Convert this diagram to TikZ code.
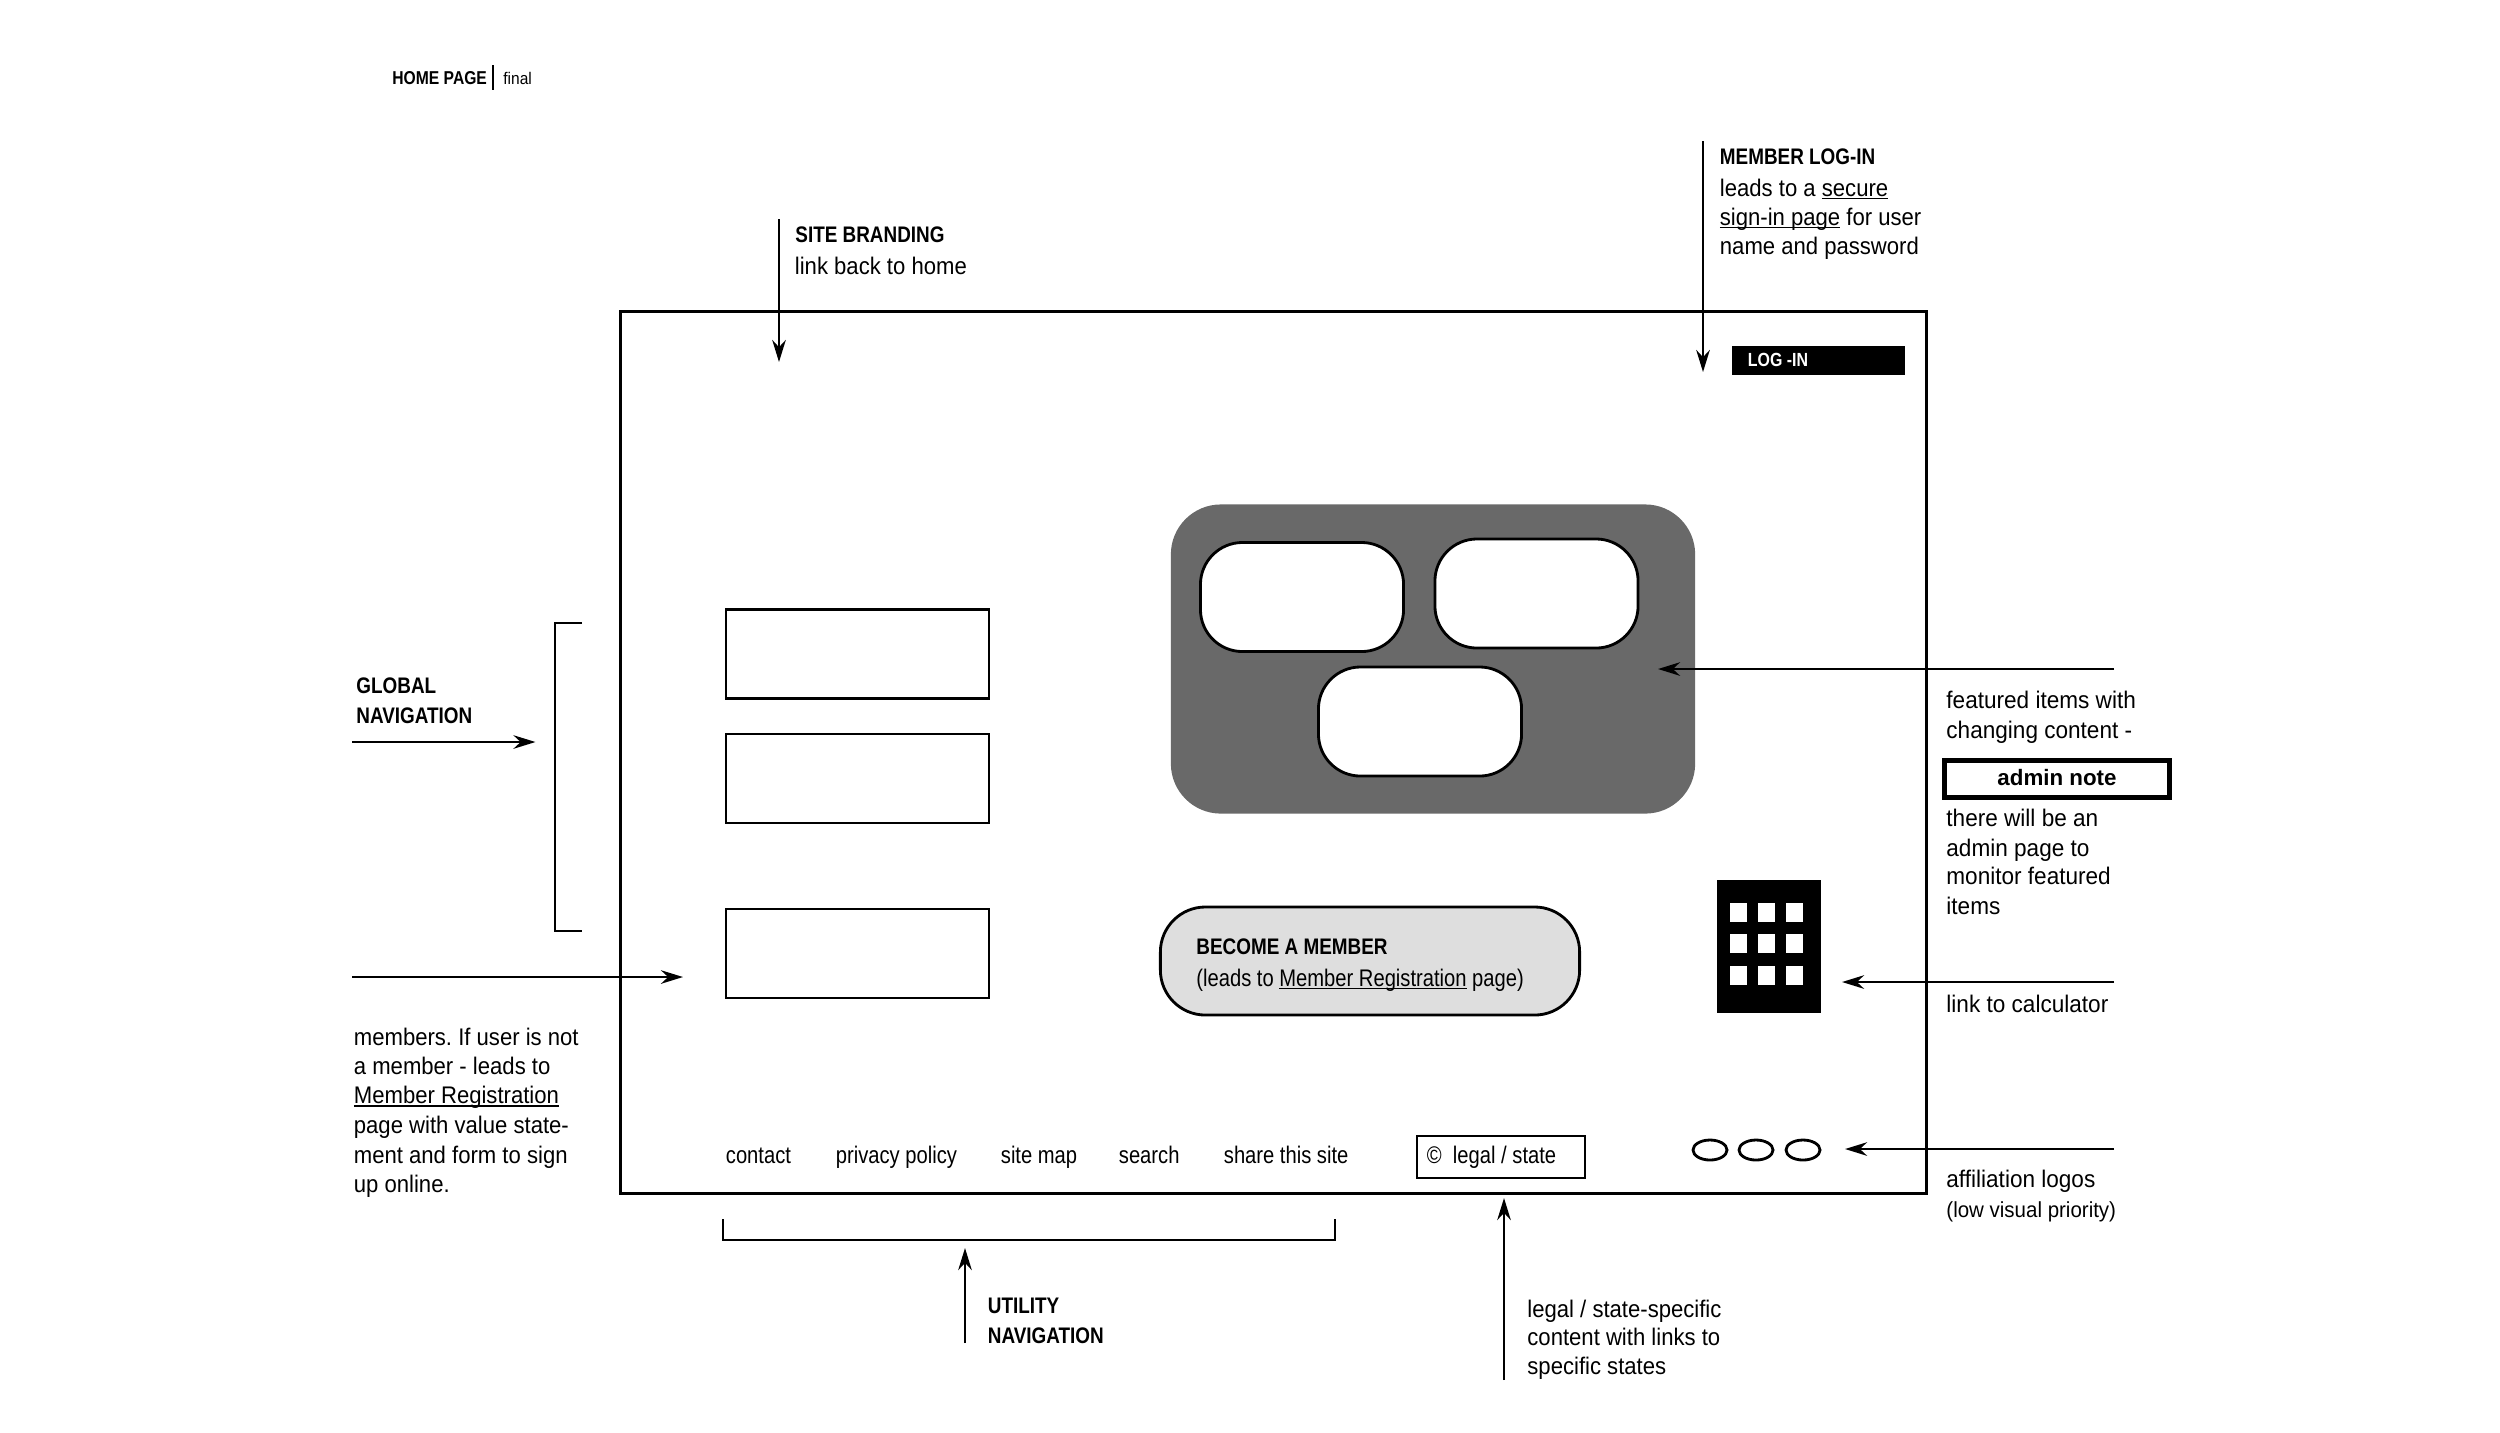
\documentclass[tikz,border=0pt]{standalone}
\usepackage{fontspec}
\usetikzlibrary{arrows.meta,shapes.geometric}
\newfontfamily\bodyfont[FakeStretch=.92]{Liberation Sans}
\newfontfamily\sidefont[FakeStretch=.94]{Liberation Sans}
\newfontfamily\pagefont[FakeStretch=.84]{Liberation Sans}
\newfontfamily\headfont[FakeStretch=.84]{Liberation Sans}
\newcommand{\ulink}[1]{\setbox0=\hbox{#1}\rlap{\rule[-.9pt]{\wd0}{.4pt}}\box0\relax}
\frenchspacing

\begin{document}
\begin{tikzpicture}[x=0.01cm,y=-0.01cm,line width=0.8pt]
                \tikzstyle{note}=[anchor=base west,inner sep=0pt,align=left,font=\bodyfont\fontsize{6.83pt}{8.34pt}\selectfont]
                \tikzstyle{side}=[note,font=\sidefont\fontsize{6.83pt}{8.34pt}\selectfont]
                \tikzstyle{pagetext}=[note,font=\pagefont\fontsize{6.83pt}{8.34pt}\selectfont]
                \tikzstyle{head}=[note,font=\headfont\bfseries\fontsize{6.4pt}{8.34pt}\selectfont]
                \tikzstyle{pointer}=[line width=0.75pt,-{Stealth[length=2.2mm,width=1.35mm]}]
                \tikzstyle{navbox}=[rectangle,draw=black,fill=white,minimum width=2.63cm,minimum height=0.89cm,inner sep=0pt]
                \tikzstyle{feature}=[rectangle,draw=black,fill=white,rounded corners=0.42cm,minimum width=2.03cm,minimum height=1.09cm,inner sep=0pt]
                \useasboundingbox (0,0) rectangle (2500,1432);

                \node[rectangle,draw=black,minimum width=13.05cm,minimum height=8.81cm,inner sep=0pt] (frame) at (1273.5,752.5) {};

                \node[rectangle,fill=black!59,rounded corners=0.5cm,minimum width=5.24cm,minimum height=3.09cm] (panel) at (1433,659) {};
                \foreach \num/\x/\y in {1/1302/597, 2/1536.5/593.5, 3/1420/721.5}
                        \node[feature] (F-\num) at (\x,\y) {};

                \foreach \num/\y in {1/654, 2/778.5, 3/953.5}
                        \node[navbox] (N-\num) at (857.5,\y) {};

                \node[rectangle,draw=black,fill=black!13,rounded corners=0.45cm,minimum width=4.19cm,minimum height=1.08cm,inner sep=0pt] (pill) at (1370,961) {};
                \node[head] (pill-a) at (1195,954) {BECOME A MEMBER};
                \node[pagetext] (pill-b) at (1195,986) {(leads to \ulink{Member Registration} page)};

                \node[rectangle,fill=black,minimum width=1.04cm,minimum height=1.33cm,inner sep=0pt] (calc) at (1769,946.5) {};
                \foreach \x in {1738.5,1766.5,1794}
                    \foreach \y in {912,943.5,975.5}
                        \node[rectangle,fill=white,minimum width=0.17cm,minimum height=0.19cm,inner sep=0pt] (W-\x-\y) at (\x,\y) {};

                \node[rectangle,fill=black,minimum width=1.73cm,minimum height=0.29cm,inner sep=0pt] (login) at (1818.5,360.5) {};
                \node[head,text=white,font=\headfont\bfseries\fontsize{5.4pt}{6pt}\selectfont] (login-t) at (1746.5,366) {LOG -IN};

                \foreach \num/\x/\label in {1/724.5/contact, 2/834.5/privacy policy, 3/999.5/site map, 4/1117.5/search, 5/1222.5/share this site}
                        \node[pagetext] (U-\num) at (\x,1163) {\label};

                \node[rectangle,draw=black,line width=0.35pt,minimum width=1.68cm,minimum height=0.42cm,inner sep=0pt] (legal) at (1501,1157) {};
                \node[pagetext] (legal-t) at (1425.5,1163) {©\ \ legal / state};

                \foreach \num/\x in {1/1710, 2/1756, 3/1803}
                        \node[ellipse,draw=black,minimum width=0.34cm,minimum height=0.2cm,inner sep=0pt] (L-\num) at (\x,1150) {};

                \foreach \num/\xa/\ya/\xb/\yb in {brand/779/219/779/362, member/1703/141/1703/372, global/352/742/535.5/742, join/352/977/683/977, utility/965/1343/965/1248, state/1504/1380/1504/1198, items/2114/669/1658/669, tool/2114/982/1842/982, logos/2114/1149/1845/1149} {
                        \coordinate (\num-a) at (\xa,\ya);
                        \coordinate (\num-b) at (\xb,\yb);
                        \draw[pointer] (\num-a) -- (\num-b);
                }

                \coordinate (B-1) at (582,623);
                \coordinate (B-2) at (555,623);
                \coordinate (B-3) at (555,931);
                \coordinate (B-4) at (582,931);
                \draw (B-1) -- (B-2) -- (B-3) -- (B-4);

                \coordinate (C-1) at (723,1219);
                \coordinate (C-2) at (723,1240);
                \coordinate (C-3) at (1335,1240);
                \coordinate (C-4) at (1335,1219);
                \draw (C-1) -- (C-2) -- (C-3) -- (C-4);

                \node[head,font=\headfont\bfseries\fontsize{5.3pt}{6pt}\selectfont] (title) at (391,84) {HOME PAGE};
                \coordinate (bar-a) at (493,65);
                \coordinate (bar-b) at (493,90);
                \draw[line width=0.5pt] (bar-a) -- (bar-b);
                \node[note,font=\bodyfont\fontsize{4.8pt}{6pt}\selectfont] (title-b) at (502,84) {final};

                \node[head] (brand-h) at (794,242) {SITE BRANDING};
                \node[note] (brand-t) at (793.5,274) {link back to home};

                \node[head] (member-h) at (1718.5,164) {MEMBER LOG-IN};
                \node[note] (member-t1) at (1718.5,196) {leads to a \ulink{secure}};
                \node[note] (member-t2) at (1718.5,225) {\ulink{sign-in page} for user};
                \node[note] (member-t3) at (1718.5,254) {name and password};

                \node[head] (global-h1) at (355,693.5) {GLOBAL};
                \node[head] (global-h2) at (355,723) {NAVIGATION};

                \foreach \num/\y/\label in {1/1045/members. If user is not, 2/1074/a member - leads to, 3/1103.5/\ulink{Member Registration}, 4/1133/page with value state-, 5/1163/ment and form to sign, 6/1192/up online.}
                        \node[note] (J-\num) at (352.5,\y) {\label};

                \node[head] (utility-h1) at (986.5,1313) {UTILITY};
                \node[head] (utility-h2) at (986.5,1343) {NAVIGATION};

                \foreach \num/\y/\label in {1/1317/{legal / state-specific}, 2/1345/content with links to, 3/1374/specific states}
                        \node[note] (S-\num) at (1526,\y) {\label};

                \foreach \num/\y/\label in {1/708/featured items with, 2/738/changing content -, 3/826/there will be an, 4/856/admin page to, 5/884/monitor featured, 6/914/items, 7/1012/link to calculator, 8/1187/affiliation logos}
                        \node[side] (R-\num) at (1945,\y) {\label};
                \node[side,font=\sidefont\fontsize{6.2pt}{8pt}\selectfont] (R-9) at (1945,1217) {(low visual priority)};

                \node[rectangle,draw=black,line width=1.42pt,minimum width=2.25cm,minimum height=0.37cm,inner sep=0pt,text depth=1.2pt,font=\fontspec{Liberation Sans}\bfseries\fontsize{6.35pt}{8pt}\selectfont] (admin) at (2057,779) {admin note};
            \end{tikzpicture}
\end{document}
